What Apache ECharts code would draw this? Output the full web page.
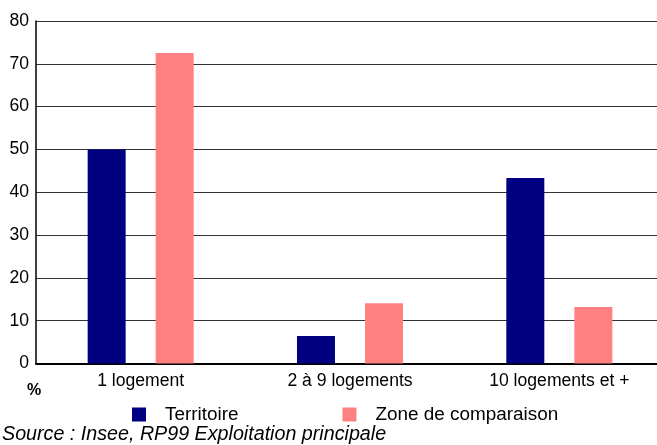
<!DOCTYPE html>
<html>
<head>
<meta charset="utf-8">
<style>html,body{margin:0;padding:0;background:#fff;}#c{width:657px;height:445px;}</style>
<script src="https://cdn.jsdelivr.net/npm/echarts@6/dist/echarts.min.js"></script>
</head>
<body>
<div id="c"></div>
<script>
const categories = ['1 logement', '2 à 9 logements', '10 logements et +'];
const territoire = [50.0, 6.4, 43.3];
const zoneComparaison = [72.5, 14.1, 13.2];
const seriesNames = ['Territoire', 'Zone de comparaison'];
const sourceText = 'Source : Insee, RP99 Exploitation principale';
const unitLabel = '%';

const FONT = '"Liberation Sans", Arial, sans-serif';
const chart = echarts.init(document.getElementById('c'), null, {renderer: 'canvas'});
chart.setOption({
  animation: false,
  backgroundColor: '#ffffff',
  textStyle: {fontFamily: FONT},
  grid: {left: 36, top: 21, width: 628, bottom: 81.5, containLabel: false, outerBoundsMode: 'none'},
  xAxis: {
    type: 'category',
    data: categories,
    axisLine: {lineStyle: {color: '#000', width: 2}},
    axisTick: {show: false},
    axisLabel: {color: '#000', fontSize: 17.6, margin: 9, fontFamily: FONT}
  },
  yAxis: {
    type: 'value', min: 0, max: 80, interval: 10,
    axisLine: {show: true, lineStyle: {color: '#000', width: 1.5}},
    axisTick: {show: false},
    axisLabel: {color: '#000', fontSize: 17.6, margin: 7, fontFamily: FONT},
    splitLine: {show: true, lineStyle: {color: '#333', width: 1.2}}
  },
  legend: {
    left: 132, top: 405, padding: 0,
    itemWidth: 14, itemHeight: 14, itemGap: 104,
    icon: 'rect',
    textStyle: {fontSize: 18.9, color: '#000', fontFamily: FONT, padding: [0, 0, 0, 14]},
    data: seriesNames
  },
  graphic: [
    {type: 'text', left: 27, top: 383, style: {text: unitLabel, font: 'bold 16px ' + FONT, fill: '#000'}},
    {type: 'text', left: 2, top: 425, style: {text: sourceText, font: 'italic 19.7px ' + FONT, fill: '#000'}}
  ],
  series: [
    {name: seriesNames[0], type: 'bar', data: territoire, barWidth: 38, barGap: '79%', itemStyle: {color: '#000080'}},
    {name: seriesNames[1], type: 'bar', data: zoneComparaison, barWidth: 38, itemStyle: {color: '#ff8080'}}
  ]
});
</script>
</body>
</html>
